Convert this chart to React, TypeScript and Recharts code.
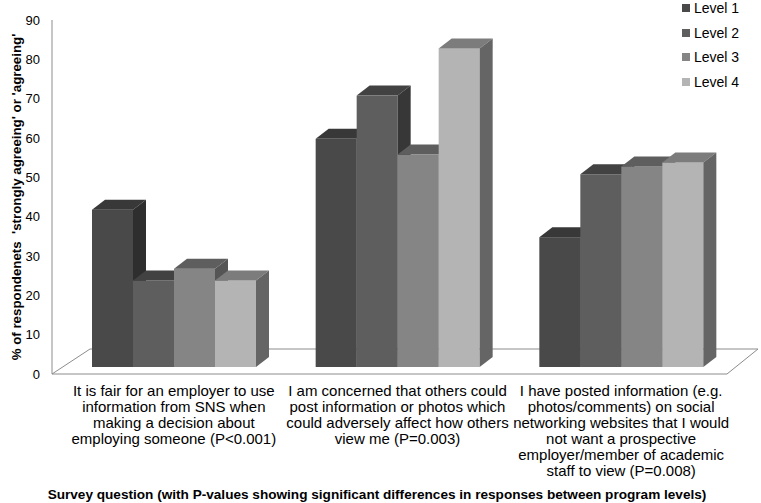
import React from 'react';
import { BarChart, Bar, XAxis, YAxis, ReferenceLine } from 'recharts';

// survey questions, one entry per line of the tick label
const questions = [
  ['It is fair for an employer to use', 'information from SNS when', 'making a decision about', 'employing someone (P<0.001)'],
  ['I am concerned that others could', 'post information or photos which', 'could adversely affect how others', 'view me (P=0.003)'],
  [
    'I have posted information (e.g.',
    'photos/comments) on social',
    'networking websites that I would',
    'not want a prospective',
    'employer/member of academic',
    'staff to view (P=0.008)',
  ],
];
const levelNames = ['Level 1', 'Level 2', 'Level 3', 'Level 4'];
const level1 = [40, 58, 33];
const level2 = [22, 69, 49];
const level3 = [25, 54, 51];
const level4 = [22, 81, 52];
const yTicks = [0, 10, 20, 30, 40, 50, 60, 70, 80, 90];

const fronts = ['#494949', '#5e5e5e', '#858585', '#b4b4b4'];
const tops = ['#383838', '#424242', '#5e5e5e', '#7c7c7c'];
const sides = ['#2e2e2e', '#373737', '#555555', '#656565'];

const FONT = '"Liberation Sans", Arial, sans-serif';
const DX = 13;
const DY = -10;
const LIFT = 7;

const data = questions.map((lines, i) => ({
  q: lines.join(' '),
  l1: level1[i],
  l2: level2[i],
  l3: level3[i],
  l4: level4[i],
}));

function make3DBar(idx: number) {
  return (props: any) => {
    const { x, y, width, height } = props;
    const yt = y - LIFT;
    const yb = y + height - LIFT;
    const xr = x + width;
    return (
      <g>
        <rect x={x} y={yt} width={width} height={height} fill={fronts[idx]} />
        <polygon
          points={`${x},${yt} ${x + DX},${yt + DY} ${xr + DX},${yt + DY} ${xr},${yt}`}
          fill={tops[idx]}
        />
        <polygon
          points={`${xr},${yt} ${xr + DX},${yt + DY} ${xr + DX},${yb + DY} ${xr},${yb}`}
          fill={sides[idx]}
        />
      </g>
    );
  };
}

function Floor(props: any) {
  const { x1, y1, x2 } = props;
  const pts = `${x1},${y1} ${x2 - 6},${y1} ${x2 + 25},${y1 - 25} ${x1 + 38},${y1 - 25}`;
  return <polygon points={pts} fill="none" stroke="#8c8c8c" strokeWidth={1} />;
}

function QuestionTick(props: any) {
  const { x, y, payload } = props;
  const lines = questions[payload.index] || [];
  return (
    <text x={x} y={y} textAnchor="middle" fontSize={15} fontFamily={FONT} fill="#000">
      {lines.map((l, i) => (
        <tspan key={i} x={x} dy={i === 0 ? 14 : 16}>
          {l}
        </tspan>
      ))}
    </text>
  );
}

function LevelLegend() {
  return (
    <div style={{ position: 'absolute', left: 682, top: -4, fontFamily: FONT, fontSize: 14, color: '#000' }}>
      {levelNames.map((n, i) => (
        <div key={n} style={{ display: 'flex', alignItems: 'center', height: 24.5 }}>
          <span style={{ width: 8, height: 8, background: fronts[i], marginRight: 4 }} />
          {n}
        </div>
      ))}
    </div>
  );
}

export default function App() {
  return (
    <div style={{ position: 'absolute', left: 0, top: 0, width: 761, height: 503, background: '#fff' }}>
      <BarChart
        width={761}
        height={503}
        data={data}
        margin={{ top: 20, right: 28, bottom: 34, left: 0 }}
        barCategoryGap={30}
        barGap={0}
      >
        <XAxis
          dataKey="q"
          axisLine={false}
          tickLine={false}
          height={95}
          padding={{ left: 10, right: 0 }}
          tick={<QuestionTick />}
          interval={0}
        />
        <YAxis
          domain={[0, 90]}
          ticks={yTicks}
          width={52}
          axisLine={{ stroke: '#8c8c8c' }}
          tickLine={false}
          tickMargin={6}
          tick={{ fontSize: 13, fontFamily: FONT, fill: '#000' }}
        />
        <ReferenceLine y={0} stroke="#8c8c8c" shape={Floor} zIndex={-10} />
        <Bar dataKey="l1" name={levelNames[0]} fill={fronts[0]} shape={make3DBar(0)} isAnimationActive={false} />
        <Bar dataKey="l2" name={levelNames[1]} fill={fronts[1]} shape={make3DBar(1)} isAnimationActive={false} />
        <Bar dataKey="l3" name={levelNames[2]} fill={fronts[2]} shape={make3DBar(2)} isAnimationActive={false} />
        <Bar dataKey="l4" name={levelNames[3]} fill={fronts[3]} shape={make3DBar(3)} isAnimationActive={false} />
        <text
          x={16}
          y={197}
          transform="rotate(-90 16 197)"
          textAnchor="middle"
          dominantBaseline="central"
          fontSize={13.3}
          fontWeight="bold"
          fontFamily={FONT}
          style={{ whiteSpace: 'pre' }}
        >
          {"% of respondenets  'strongly agreeing' or 'agreeing'"}
        </text>
        <text
          x={377}
          y={494}
          textAnchor="middle"
          dominantBaseline="central"
          fontSize={13.6}
          fontWeight="bold"
          fontFamily={FONT}
        >
          Survey question (with P-values showing significant differences in responses between program levels)
        </text>
      </BarChart>
      <LevelLegend />
    </div>
  );
}
